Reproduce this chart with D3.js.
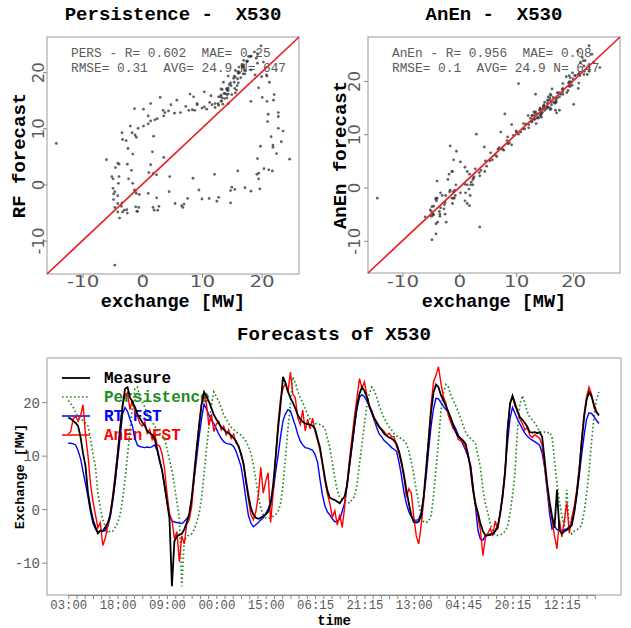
<!DOCTYPE html>
<html><head><meta charset="utf-8">
<script src="https://cdn.jsdelivr.net/npm/d3@7"></script>
<style>
html,body{margin:0;padding:0;background:#fff;}
svg{display:block;}
text{white-space:pre;}
</style></head>
<body>
<svg id="chart" width="631" height="628"></svg>
<script>
// 15-minute series for X530, one stored sample every 3 time steps (45 min)
const step = 3;
const nTotal = 647;

const measure = [
  17.1, 16.9, 16.5, 16.1, 15.5, 13.4, 10.4, 8.0, 3.0, 0.2,
  -2.0, -3.3, -4.5, -4.0, -4.1, -3.4, -2.6, -1.1, 1.8, 5.5,
  10.0, 14.8, 19.2, 22.5, 22.8, 20.9, 20.0, 19.1, 17.8, 17.0,
  16.2, 15.6, 14.6, 14.2, 13.9, 13.1, 11.3, 9.2, 7.3, 4.4,
  1.4, -1.7, -14.4, -6.0, -5.1, -4.8, -4.6, -3.8, -2.5, -0.9,
  2.0, 6.6, 11.2, 15.5, 19.5, 21.9, 21.0, 20.1, 18.9, 17.6,
  16.8, 16.0, 15.3, 14.9, 14.4, 14.2, 13.8, 13.3, 12.7, 11.7,
  10.4, 8.4, 5.4, 2.5, 0.2, -1.0, -1.6, -1.8, -1.6, -1.3,
  -1.0, -0.5, 1.0, 4.5, 9.5, 15.0, 19.5, 24.7, 23.6, 22.0,
  20.8, 19.9, 18.8, 17.6, 16.8, 16.3, 16.0, 15.9, 15.8, 15.6,
  15.0, 13.2, 11.5, 8.6, 5.8, 3.5, 2.1, 1.9, 1.7, 1.4,
  1.1, 1.8, 2.4, 4.6, 8.5, 12.1, 16.0, 19.3, 21.6, 22.8,
  22.1, 20.9, 19.3, 18.1, 17.0, 16.2, 15.4, 14.8, 14.1, 13.7,
  13.4, 13.2, 12.8, 12.2, 10.8, 8.8, 6.4, 3.6, 1.0, -1.2,
  -2.4, -2.5, -2.3, -1.2, 2.4, 7.6, 12.8, 18.2, 21.8, 23.3,
  22.8, 21.3, 20.3, 19.3, 18.2, 17.0, 15.6, 14.4, 13.6, 13.2,
  12.8, 12.2, 10.0, 7.8, 3.8, 1.0, -0.7, -2.7, -4.1, -4.9,
  -4.9, -4.8, -4.6, -4.1, -3.3, -0.8, 2.6, 6.8, 14.8, 19.7,
  21.2, 19.8, 18.2, 17.2, 16.7, 16.1, 15.4, 14.4, 14.3, 14.4,
  14.2, 14.4, 13.5, 9.2, 4.8, 1.4, -1.3, -3.4, 3.6, -3.9,
  -4.6, -4.1, -3.9, -3.5, -3.0, -0.6, 2.8, 7.0, 12.5, 17.2,
  20.4, 21.9, 21.1, 19.5, 18.2, 17.5
];

// persistence: the measurement observed 3 hours earlier
const persistence = [
  20.3, 19.7, 19.0, 18.1,
  17.1, 16.9, 16.5, 16.1, 15.5, 13.4, 10.4, 8.0, 3.0, 0.2,
  -2.0, -3.3, -4.5, -4.0, -4.1, -3.4, -2.6, -1.1, 1.8, 5.5,
  10.0, 14.8, 19.2, 22.5, 22.8, 20.9, 20.0, 19.1, 17.8, 17.0,
  16.2, 15.6, 14.6, 14.2, 13.9, 13.1, 11.3, 9.2, 7.3, 4.4,
  1.4, -1.7, -14.4, -6.0, -5.1, -4.8, -4.6, -3.8, -2.5, -0.9,
  2.0, 6.6, 11.2, 15.5, 19.5, 21.9, 21.0, 20.1, 18.9, 17.6,
  16.8, 16.0, 15.3, 14.9, 14.4, 14.2, 13.8, 13.3, 12.7, 11.7,
  10.4, 8.4, 5.4, 2.5, 0.2, -1.0, -1.6, -1.8, -1.6, -1.3,
  -1.0, -0.5, 1.0, 4.5, 9.5, 15.0, 19.5, 24.7, 23.6, 22.0,
  20.8, 19.9, 18.8, 17.6, 16.8, 16.3, 16.0, 15.9, 15.8, 15.6,
  15.0, 13.2, 11.5, 8.6, 5.8, 3.5, 2.1, 1.9, 1.7, 1.4,
  1.1, 1.8, 2.4, 4.6, 8.5, 12.1, 16.0, 19.3, 21.6, 22.8,
  22.1, 20.9, 19.3, 18.1, 17.0, 16.2, 15.4, 14.8, 14.1, 13.7,
  13.4, 13.2, 12.8, 12.2, 10.8, 8.8, 6.4, 3.6, 1.0, -1.2,
  -2.4, -2.5, -2.3, -1.2, 2.4, 7.6, 12.8, 18.2, 21.8, 23.3,
  22.8, 21.3, 20.3, 19.3, 18.2, 17.0, 15.6, 14.4, 13.6, 13.2,
  12.8, 12.2, 10.0, 7.8, 3.8, 1.0, -0.7, -2.7, -4.1, -4.9,
  -4.9, -4.8, -4.6, -4.1, -3.3, -0.8, 2.6, 6.8, 14.8, 19.7,
  21.2, 19.8, 18.2, 17.2, 16.7, 16.1, 15.4, 14.4, 14.3, 14.4,
  14.2, 14.4, 13.5, 9.2, 4.8, 1.4, -1.3, -3.4, 3.6, -3.9,
  -4.6, -4.1, -3.9, -3.5, -3.0, -0.6, 2.8, 7.0, 12.5, 17.2,
  20.4, 21.9
];

const rtFst = [
  12.3, 12.3, 12.2, 12.0, 10.9, 9.4, 7.0, 4.7, 2.3, -0.5,
  -2.6, -3.7, -4.4, -4.0, -4.1, -4.0, -3.2, -1.5, 1.5, 5.0,
  9.2, 13.3, 17.8, 19.0, 18.3, 16.8, 15.5, 13.2, 12.0, 11.7,
  11.6, 11.5, 11.6, 11.5, 11.7, 12.0, 11.0, 9.0, 7.2, 4.4,
  1.5, -1.2, -2.2, -2.4, -2.5, -2.6, -2.7, -2.3, -1.8, -1.2,
  1.8, 5.5, 9.5, 13.5, 16.8, 19.6, 18.7, 17.6, 16.6, 16.0,
  15.0, 14.0, 13.2, 12.6, 12.3, 12.2, 12.1, 11.7, 10.8, 9.4,
  8.0, 5.2, 1.8, -1.2, -2.6, -3.3, -2.9, -2.5, -2.0, -1.6,
  -0.8, 0.0, 1.5, 3.2, 6.8, 10.0, 13.5, 16.5, 17.8, 18.6,
  18.4, 17.0, 15.6, 14.0, 12.7, 12.0, 11.5, 11.4, 11.2, 11.0,
  10.2, 8.8, 5.5, 2.6, 0.6, -0.5, -1.1, -1.8, -2.4, -2.2,
  -1.9, -0.4, 1.2, 4.6, 8.3, 12.0, 15.5, 18.8, 20.9, 21.4,
  21.0, 20.2, 19.2, 17.8, 16.6, 15.2, 14.0, 13.5, 12.8, 12.4,
  12.0, 11.5, 11.2, 10.8, 8.8, 6.2, 3.2, 1.0, -0.5, -1.4,
  -2.0, -2.1, -1.9, -0.6, 2.2, 6.0, 11.0, 15.5, 18.8, 20.7,
  20.6, 19.9, 19.2, 18.6, 18.1, 17.0, 15.9, 15.0, 13.9, 13.0,
  12.0, 11.0, 9.8, 8.2, 4.2, 0.4, -4.0, -5.6, -5.8, -5.0,
  -4.8, -4.6, -4.4, -4.0, -3.2, -1.0, 2.8, 7.5, 12.5, 17.0,
  19.0, 17.9, 16.8, 15.9, 15.0, 14.2, 13.6, 13.2, 12.9, 12.6,
  12.3, 11.9, 10.5, 7.8, 3.8, -0.8, -3.7, -3.2, -3.8, -4.0,
  -4.0, -3.8, -3.7, -3.2, -2.4, -0.4, 2.4, 6.2, 10.2, 13.8,
  16.8, 18.0, 17.9, 17.3, 16.6, 16.0
];

const anenFst = [
  14.0, 14.5, 16.9, 17.3, 16.4, 17.5, 19.5, 13.8, 10.0, 4.8,
  1.5, -1.0, -3.5, -2.5, -6.8, -5.4, -3.2, -0.8, 2.5, 6.5,
  10.6, 15.3, 19.6, 21.2, 21.8, 18.6, 20.4, 18.2, 17.5, 16.0,
  15.5, 16.3, 14.1, 14.9, 13.0, 14.2, 12.0, 11.8, 10.4, 7.6,
  3.0, -0.8, -2.0, -5.5, -4.2, -9.8, -5.0, -6.5, -2.8, -2.0,
  0.5, 5.8, 11.0, 15.8, 19.8, 21.2, 19.6, 15.6, 17.8, 14.5,
  15.9, 16.4, 14.8, 15.5, 13.9, 14.8, 13.2, 14.0, 12.3, 11.9,
  10.0, 8.8, 5.0, 1.8, -1.0, -2.0, -0.5, 2.5, 7.8, 3.0,
  5.2, 6.8, -2.5, 3.0, 9.8, 16.0, 20.6, 22.5, 23.5, 21.8,
  25.6, 21.5, 20.8, 17.0, 15.8, 18.5, 14.6, 16.8, 15.0, 17.0,
  14.5, 12.8, 11.0, 8.2, 5.2, 2.8, 1.0, -1.5, -0.3, -3.0,
  -1.0, -3.4, 0.5, 5.0, 9.5, 13.5, 17.5, 21.0, 24.4, 22.6,
  23.8, 21.2, 19.0, 18.4, 16.5, 16.0, 15.2, 14.9, 14.5, 13.8,
  14.2, 13.6, 13.5, 11.8, 10.4, 8.4, 6.0, 2.2, 3.8, 3.0,
  -1.5, -5.0, -6.5, -3.0, 1.5, 7.2, 13.5, 19.5, 23.8, 25.0,
  26.6, 23.5, 21.0, 19.8, 17.5, 16.2, 15.0, 14.6, 13.0, 12.8,
  12.4, 11.2, 10.4, 7.0, 3.2, 0.6, -1.5, -4.0, -8.7, -5.4,
  -4.5, -3.6, -5.0, -2.2, -3.8, -0.5, 2.0, 7.2, 15.2, 19.8,
  21.0, 19.2, 18.6, 16.8, 16.0, 14.8, 15.2, 13.8, 13.4, 13.9,
  13.6, 13.2, 12.0, 8.0, 4.0, 0.5, -2.0, -5.0, -7.4, -2.0,
  -5.2, -2.0, 1.2, -4.5, -1.5, 0.5, 3.5, 7.5, 13.0, 17.8,
  21.0, 22.8, 21.5, 19.0, 18.0, 17.8
];

const timeTickIndex = [1, 61, 121, 181, 241, 301, 361, 421, 481, 541, 601];
const timeTickLabels = ["03:00", "18:00", "09:00", "00:00", "15:00", "06:15",
                        "21:15", "13:00", "04:45", "20:15", "12:15"];
const valueTicks = [-10, 0, 10, 20];

const statsPers = ["PERS - R= 0.602  MAE= 0.25", "RMSE= 0.31  AVG= 24.9 N= 647"];
const statsAnen = ["AnEn - R= 0.956  MAE= 0.08", "RMSE= 0.1  AVG= 24.9 N= 647"];

const seriesNames = ["Measure", "Persistence", "RT FST", "AnEn FST"];
const seriesColors = ["#000000", "#228B22", "#0000ff", "#ff0000"];

// ---------------------------------------------------------------------
const svg = d3.select("#chart");
const MONO = "'Liberation Mono','Courier New',monospace";
const SANS = "'DejaVu Sans',sans-serif";
const GREY = "#5a5a5a";

function padded(vals) {
  const [a, b] = d3.extent(vals);
  const p = (b - a) * 0.04;
  return [a - p, b + p];
}

function styleAxis(g) {
  g.select(".domain").remove();
  g.selectAll(".tick line").attr("stroke", "#888");
}

// scatter of measured exchange against one forecast
function scatterPanel(box, forecast, title, ylab, stats, yLabelOffset) {
  const dom = padded(measure.concat(forecast));
  const xs = d3.scaleLinear().domain(dom).range([box.x0, box.x1]);
  const ys = d3.scaleLinear().domain(dom).range([box.y1, box.y0]);
  const g = svg.append("g");

  g.append("rect")
    .attr("x", box.x0).attr("y", box.y0)
    .attr("width", box.x1 - box.x0).attr("height", box.y1 - box.y0)
    .attr("fill", "none").attr("stroke", "#9a9a9a").attr("stroke-width", 1);

  const ax = g.append("g").attr("transform", `translate(0,${box.y1})`)
    .call(d3.axisBottom(xs).tickValues(valueTicks).tickSize(4).tickFormat(d => String(d)));
  styleAxis(ax);
  ax.selectAll(".tick text")
    .attr("y", 287 - box.y1).attr("dy", 0)
    .attr("transform", "scale(1.28,1)")
    .attr("fill", GREY).style("font-family", SANS).style("font-size", "15.5px");

  const ay = g.append("g").attr("transform", `translate(${box.x0},0)`)
    .call(d3.axisLeft(ys).tickValues(valueTicks).tickSize(4).tickFormat(d => String(d)));
  styleAxis(ay);
  ay.selectAll(".tick text")
    .attr("x", 0).attr("y", 0).attr("dy", 0)
    .attr("text-anchor", "middle")
    .attr("transform", `translate(${yLabelOffset},0) rotate(-90)`)
    .attr("fill", GREY).style("font-family", SANS).style("font-size", "16.5px");

  // statistics block
  stats.forEach((s, i) => {
    g.append("text")
      .attr("x", box.x0 + 24).attr("y", box.y0 + 20 + i * 15)
      .attr("fill", GREY).style("font-family", MONO).style("font-size", "12.8px")
      .text(s);
  });

  g.append("g").selectAll("circle")
    .data(measure.map((m, i) => [m, forecast[i]]))
    .join("circle")
    .attr("cx", d => xs(d[0])).attr("cy", d => ys(d[1]))
    .attr("r", 1.4).attr("fill", "#3a3a3a").attr("fill-opacity", 0.8);

  g.append("line")
    .attr("x1", xs(dom[0])).attr("y1", ys(dom[0]))
    .attr("x2", xs(dom[1])).attr("y2", ys(dom[1]))
    .attr("stroke", "#e8202a").attr("stroke-width", 1.7);

  const cx = (box.x0 + box.x1) / 2;
  g.append("text").attr("x", cx).attr("y", 20).attr("text-anchor", "middle")
    .style("font-family", MONO).style("font-weight", "bold").style("font-size", "19px")
    .text(title);
  g.append("text").attr("x", cx).attr("y", 306.5).attr("text-anchor", "middle")
    .style("font-family", MONO).style("font-weight", "bold").style("font-size", "18.5px")
    .text("exchange [MW]");
  g.append("text")
    .attr("transform", `translate(${box.x0 - 22},${(box.y0 + box.y1) / 2}) rotate(-90)`)
    .attr("text-anchor", "middle")
    .style("font-family", MONO).style("font-weight", "bold").style("font-size", "19px")
    .text(ylab);
}

scatterPanel({x0: 47, x1: 299, y0: 37, y1: 274}, persistence,
             "Persistence -  X530", "RF forecast", statsPers, -3);
scatterPanel({x0: 368, x1: 620, y0: 37, y1: 273}, anenFst,
             "AnEn -  X530", "AnEn forecast", statsAnen, -8);

// ---------------------------------------------------------------------
// time series of the four curves
const tb = {x0: 47, x1: 621, y0: 358, y1: 595};
const idxPad = (nTotal - 1) * 0.04;
const xt = d3.scaleLinear().domain([1 - idxPad, nTotal + idxPad]).range([tb.x0, tb.x1]);
const yt = d3.scaleLinear()
  .domain(padded(measure.concat(persistence, rtFst, anenFst)))
  .range([tb.y1, tb.y0]);

const tg = svg.append("g");
tg.append("rect")
  .attr("x", tb.x0).attr("y", tb.y0)
  .attr("width", tb.x1 - tb.x0).attr("height", tb.y1 - tb.y0)
  .attr("fill", "none").attr("stroke", "#9a9a9a");

// minor ticks every 10 steps, labelled every 60
const minorIdx = d3.range(1, 642, 10);
const axMinor = tg.append("g").attr("transform", `translate(0,${tb.y1})`)
  .call(d3.axisBottom(xt).tickValues(minorIdx).tickSize(4).tickFormat(""));
styleAxis(axMinor);
tg.append("line").attr("x1", xt(1)).attr("x2", xt(641))
  .attr("y1", tb.y1 + 0.5).attr("y2", tb.y1 + 0.5).attr("stroke", "#888");

const axT = tg.append("g").attr("transform", `translate(0,${tb.y1})`)
  .call(d3.axisBottom(xt).tickValues(timeTickIndex).tickSize(0)
        .tickFormat((d, i) => timeTickLabels[i]));
styleAxis(axT);
axT.selectAll(".tick text")
  .attr("y", 14).attr("dy", 0)
  .attr("fill", GREY).style("font-family", MONO).style("font-size", "12.3px");

const ayT = tg.append("g").attr("transform", `translate(${tb.x0},0)`)
  .call(d3.axisLeft(yt).tickValues(valueTicks).tickSize(5).tickFormat(d => String(d)));
styleAxis(ayT);
ayT.selectAll(".tick text")
  .attr("x", -7).attr("dy", "0.35em")
  .attr("fill", GREY).style("font-family", MONO).style("font-size", "14px");

// legend (the curves are drawn over it)
const legendY = [378, 397, 416, 435];
seriesNames.forEach((name, i) => {
  const ln = tg.append("line")
    .attr("x1", 62).attr("x2", 90).attr("y1", legendY[i]).attr("y2", legendY[i])
    .attr("stroke", seriesColors[i]).attr("stroke-width", i === 0 ? 1.8 : 1.5);
  if (i === 1) ln.attr("stroke-dasharray", "1.6,2.4");
  tg.append("text").attr("x", 104).attr("y", legendY[i] + 5)
    .attr("fill", seriesColors[i])
    .style("font-family", MONO).style("font-weight", "bold").style("font-size", "16px")
    .text(name);
});

const line = d3.line()
  .x((d, i) => xt(1 + step * i))
  .y(d => yt(d));

svg.append("clipPath").attr("id", "tsclip")
  .append("rect").attr("x", tb.x0).attr("y", tb.y0)
  .attr("width", tb.x1 - tb.x0).attr("height", tb.y1 - tb.y0);

const curves = tg.append("g").attr("clip-path", "url(#tsclip)");
curves.append("path").datum(persistence).attr("d", line)
  .attr("fill", "none").attr("stroke", seriesColors[1]).attr("stroke-width", 1.7)
  .attr("stroke-dasharray", "1.6,2.4");
curves.append("path").datum(rtFst).attr("d", line)
  .attr("fill", "none").attr("stroke", seriesColors[2]).attr("stroke-width", 1.4);
curves.append("path").datum(anenFst).attr("d", line)
  .attr("fill", "none").attr("stroke", seriesColors[3]).attr("stroke-width", 1.4);
curves.append("path").datum(measure).attr("d", line)
  .attr("fill", "none").attr("stroke", seriesColors[0]).attr("stroke-width", 1.8);

const tcx = (tb.x0 + tb.x1) / 2;
tg.append("text").attr("x", tcx).attr("y", 340).attr("text-anchor", "middle")
  .style("font-family", MONO).style("font-weight", "bold").style("font-size", "19px")
  .text("Forecasts of X530");
tg.append("text").attr("x", tcx).attr("y", 625).attr("text-anchor", "middle")
  .style("font-family", MONO).style("font-weight", "bold").style("font-size", "14px")
  .text("time");
tg.append("text")
  .attr("transform", `translate(24,${(tb.y0 + tb.y1) / 2}) rotate(-90)`)
  .attr("text-anchor", "middle")
  .style("font-family", MONO).style("font-weight", "bold").style("font-size", "13.5px")
  .text("Exchange [MW]");
</script>
</body></html>
